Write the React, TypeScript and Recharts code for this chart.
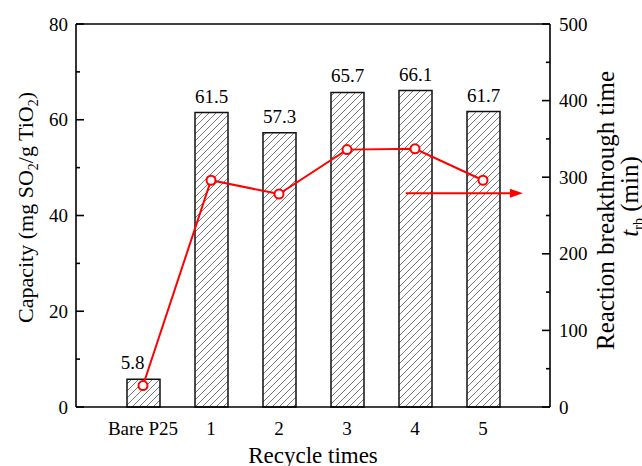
import React from 'react';
import {
  ComposedChart, Bar, Line, XAxis, YAxis, LabelList, Label, ReferenceLine,
} from 'recharts';

const categories = ['Bare P25', '1', '2', '3', '4', '5'];
const capacity = [5.8, 61.5, 57.3, 65.7, 66.1, 61.7];
const breakthrough = [28, 296, 278, 336, 337, 296];

const leftTicks = [0, 10, 20, 30, 40, 50, 60, 70, 80];
const rightTicks = [0, 50, 100, 150, 200, 250, 300, 350, 400, 450, 500];

// arrow annotation (hidden numeric x axis 0..7, right axis value)
const arrowFrom = 4.87;
const arrowTo = 6.6;
const arrowLevel = 279;

const data = categories.map((c, i) => ({ cat: c, pos: i + 1, cap: capacity[i], trb: breakthrough[i] }));

const FONT = '"Liberation Serif", "Times New Roman", serif';
const AX = 1.6;

const LeftTick = (p: any) => {
  const { x, y, payload } = p;
  const major = payload.value % 20 === 0;
  return (
    <g>
      <line x1={x} x2={x + (major ? 8 : 4)} y1={y} y2={y} stroke="#000" strokeWidth={AX} />
      {major && (
        <text x={x - 8} y={y} dy="0.35em" textAnchor="end" fontFamily={FONT} fontSize={19} fill="#000">
          {payload.value}
        </text>
      )}
    </g>
  );
};

const RightTick = (p: any) => {
  const { x, y, payload } = p;
  const major = payload.value % 100 === 0;
  return (
    <g>
      <line x1={x} x2={x - (major ? 8 : 4)} y1={y} y2={y} stroke="#000" strokeWidth={AX} />
      {major && (
        <text x={x + 9} y={y} dy="0.35em" textAnchor="start" fontFamily={FONT} fontSize={19} fill="#000">
          {payload.value}
        </text>
      )}
    </g>
  );
};

const BottomTick = (p: any) => {
  const { x, y, payload } = p;
  return (
    <text x={x} y={y + 28} textAnchor="middle" fontFamily={FONT} fontSize={19} fill="#000">
      {payload.value}
    </text>
  );
};

const LeftTitle = (p: any) => {
  const vb = p.viewBox || { x: 0, y: 24, width: 76, height: 383 };
  const cx = vb.x + 33;
  const cy = vb.y + vb.height / 2 - 8;
  return (
    <text transform={`translate(${cx},${cy}) rotate(-90)`} textAnchor="middle" fontFamily={FONT} fontSize={22} fill="#000">
      Capacity (mg SO<tspan dy={5} fontSize={14}>2</tspan>
      <tspan dy={-5}>/g TiO</tspan>
      <tspan dy={5} fontSize={14}>2</tspan>
      <tspan dy={-5}>)</tspan>
    </text>
  );
};

const RightTitle = (p: any) => {
  const vb = p.viewBox || { x: 550, y: 24, width: 92, height: 383 };
  const x1 = vb.x + 64;
  const y1 = vb.y + vb.height / 2 - 5;
  const x2 = vb.x + 88;
  const y2 = vb.y + vb.height / 2 - 19;
  return (
    <g>
      <text transform={`translate(${x1},${y1}) rotate(-90)`} textAnchor="middle" fontFamily={FONT} fontSize={25} fill="#000">
        Reaction breakthrough time
      </text>
      <text transform={`translate(${x2},${y2}) rotate(-90)`} textAnchor="middle" fontFamily={FONT} fontSize={25} fill="#000">
        <tspan fontStyle="italic">t</tspan>
        <tspan dy={5} fontSize={14}>rb</tspan>
        <tspan dy={-5}> (min)</tspan>
      </text>
    </g>
  );
};

const BottomTitle = (p: any) => {
  const vb = p.viewBox || { x: 76, y: 407, width: 474, height: 59 };
  return (
    <text x={vb.x + vb.width / 2} y={vb.y + 56} textAnchor="middle" fontFamily={FONT} fontSize={23} fill="#000">
      Recycle times
    </text>
  );
};

const BarValue = (p: any) => {
  const { x, y, width, value, index } = p;
  const shift = index === 0 ? -11 : 0;
  return (
    <text x={x + width / 2 + shift} y={y - 10} textAnchor="middle" fontFamily={FONT} fontSize={19} fill="#000">
      {value}
    </text>
  );
};

const ArrowShape = (p: any) => {
  const x1 = Number(p.x1), y1 = Number(p.y1), x2 = Number(p.x2), y2 = Number(p.y2);
  if ([x1, y1, x2, y2].some((v) => isNaN(v))) return null;
  return (
    <g>
      <line x1={x1} y1={y1} x2={x2 - 8} y2={y2} stroke="#ff0000" strokeWidth={2} />
      <polygon points={`${x2},${y2} ${x2 - 13},${y2 - 4.5} ${x2 - 13},${y2 + 4.5}`} fill="#ff0000" />
    </g>
  );
};

export default function App() {
  return (
    <div style={{ position: 'absolute', left: 0, top: 0, width: 642, height: 466, background: '#fff' }}>
      <ComposedChart width={642} height={466} data={data} margin={{ top: 24, right: 0, bottom: 0, left: 0 }}>
        <defs>
          <pattern id="hatch" patternUnits="userSpaceOnUse" width="7" height="7">
            <rect width="7" height="7" fill="#fff" />
            <path d="M0,7 L7,0 M-1,1 L1,-1 M6,8 L8,6" stroke="#555" strokeWidth="0.8" />
          </pattern>
        </defs>
        <XAxis
          dataKey="cat"
          xAxisId="cat"
          padding={{ left: 33, right: 33 }}
          height={59}
          tickLine={false}
          tickSize={0}
          tickMargin={0}
          axisLine={{ stroke: '#000', strokeWidth: AX }}
          tick={<BottomTick />}
          interval={0}
        >
          <Label content={<BottomTitle />} />
        </XAxis>
        <XAxis xAxisId="num" dataKey="pos" type="number" domain={[0, 7]} allowDataOverflow hide />
        <YAxis
          yAxisId="left"
          orientation="left"
          width={76}
          domain={[0, 80]}
          ticks={leftTicks}
          interval={0}
          tickLine={false}
          tickSize={0}
          tickMargin={0}
          axisLine={{ stroke: '#000', strokeWidth: AX }}
          tick={<LeftTick />}
        >
          <Label content={<LeftTitle />} />
        </YAxis>
        <YAxis
          yAxisId="right"
          orientation="right"
          width={92}
          domain={[0, 500]}
          ticks={rightTicks}
          interval={0}
          tickLine={false}
          tickSize={0}
          tickMargin={0}
          axisLine={{ stroke: '#000', strokeWidth: AX }}
          tick={<RightTick />}
        >
          <Label content={<RightTitle />} />
        </YAxis>
        <ReferenceLine yAxisId="left" xAxisId="cat" y={80} stroke="#000" strokeWidth={AX} />
        <Bar
          xAxisId="cat"
          yAxisId="left"
          dataKey="cap"
          barSize={33}
          fill="url(#hatch)"
          stroke="#111"
          strokeWidth={1.5}
          isAnimationActive={false}
        >
          <LabelList dataKey="cap" content={<BarValue />} />
        </Bar>
        <Line
          xAxisId="cat"
          yAxisId="right"
          type="linear"
          dataKey="trb"
          stroke="#ff0000"
          strokeWidth={2}
          dot={{ r: 4.5, fill: '#fff', stroke: '#ff0000', strokeWidth: 2 }}
          isAnimationActive={false}
        />
        <ReferenceLine
          xAxisId="num"
          yAxisId="right"
          ifOverflow="visible"
          segment={[{ x: arrowFrom, y: arrowLevel }, { x: arrowTo, y: arrowLevel }]}
          shape={<ArrowShape />}
        />
      </ComposedChart>
    </div>
  );
}
